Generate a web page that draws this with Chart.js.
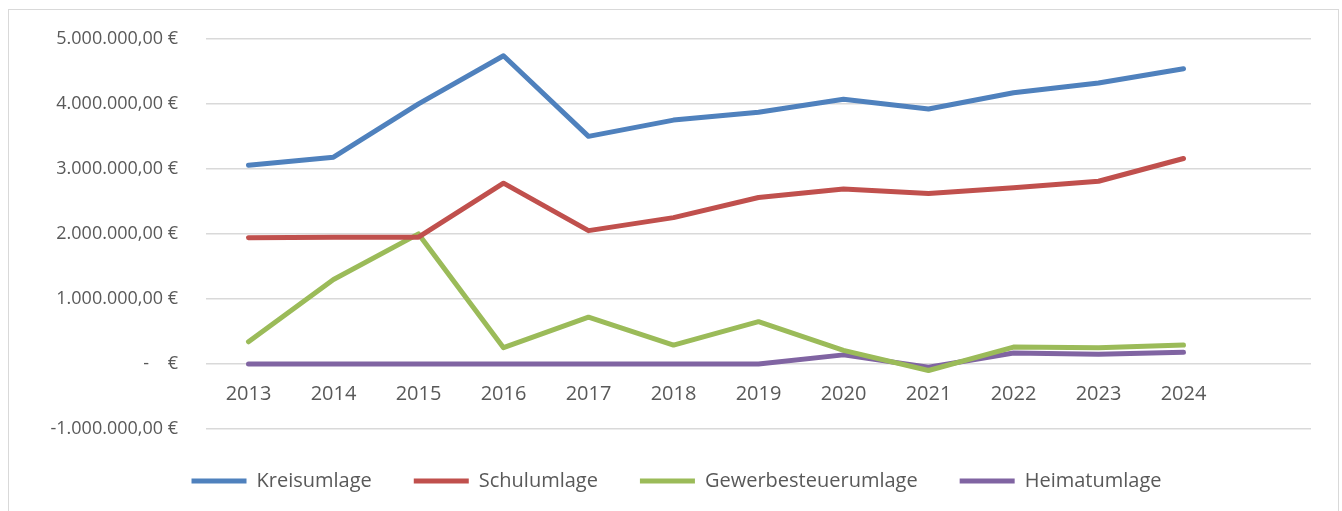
<!DOCTYPE html>
<html>
<head>
<meta charset="utf-8">
<script src="https://cdn.jsdelivr.net/npm/chart.js@4/dist/chart.umd.min.js"></script>
<style>
  html, body { margin: 0; padding: 0; background: #fff; }
  #wrap { position: relative; width: 1342px; height: 511px; overflow: hidden; }
  #frame { position: absolute; left: 8px; top: 9px; width: 1331px; height: 520px; border: 1.5px solid #D9D9D9; box-sizing: border-box; }
  canvas { position: absolute; left: 0; top: 0; }
</style>
</head>
<body>
<div id="wrap">
  <div id="frame"></div>
  <canvas id="c" width="1342" height="511"></canvas>
</div>
<script>
const categories = ["2013","2014","2015","2016","2017","2018","2019","2020","2021","2022","2023","2024",""];
const kreisumlage = [3056000, 3180000, 4000000, 4740000, 3500000, 3750000, 3870000, 4070000, 3920000, 4170000, 4320000, 4540000, null];
const schulumlage = [1940000, 1950000, 1950000, 2780000, 2050000, 2250000, 2560000, 2690000, 2620000, 2710000, 2810000, 3160000, null];
const gewerbesteuerumlage = [340000, 1300000, 2000000, 250000, 720000, 290000, 650000, 210000, -100000, 260000, 250000, 290000, null];
const heimatumlage = [0, 0, 0, 0, 0, 0, 0, 140000, -50000, 170000, 150000, 180000, null];
const seriesNames = ["Kreisumlage", "Schulumlage", "Gewerbesteuerumlage", "Heimatumlage"];
const seriesColors = ["#4F81BD", "#C0504D", "#9BBB59", "#8064A2"];
const yMin = -1000000, yMax = 5000000, yStep = 1000000;

const FONT = "'Open Sans', 'Liberation Sans', sans-serif";
const TEXT = "#595959";

function fmtEuro(v) {
  if (v === 0) return "-\u00A0\u00A0\u00A0\u00A0\u20AC";
  return v.toLocaleString("de-DE", {minimumFractionDigits: 2, maximumFractionDigits: 2}) + " \u20AC";
}

const seriesData = [kreisumlage, schulumlage, gewerbesteuerumlage, heimatumlage];
const datasets = seriesData.map((d, i) => ({
  label: seriesNames[i],
  data: d,
  borderColor: seriesColors[i],
  backgroundColor: seriesColors[i],
  borderWidth: 5,
  borderCapStyle: "round",
  borderJoinStyle: "round",
  pointRadius: 0,
  pointHoverRadius: 0,
  tension: 0,
  fill: false
}));

new Chart(document.getElementById("c"), {
  type: "line",
  data: { labels: categories, datasets: datasets },
  options: {
    responsive: false,
    animation: false,
    events: [],
    layout: { padding: { top: 27, right: 31, bottom: 10, left: 42 } },
    plugins: {
      tooltip: { enabled: false },
      legend: {
        position: "bottom",
        labels: {
          usePointStyle: true,
          pointStyle: "line",
          pointStyleWidth: 55,
          boxHeight: 5,
          padding: 42,
          color: TEXT,
          font: { family: FONT, size: 20 }
        }
      }
    },
    scales: {
      x: {
        type: "category",
        position: { y: 0 },
        offset: true,
        grid: { display: false, drawTicks: false },
        border: { display: false },
        ticks: {
          color: TEXT,
          font: { family: FONT, size: 20 },
          padding: 18,
          maxRotation: 0,
          autoSkip: false
        }
      },
      y: {
        min: yMin,
        max: yMax,
        afterFit: (s) => { s.width = 164; },
        grid: { color: "#D9D9D9", lineWidth: 1.5, drawTicks: false },
        border: { display: false },
        ticks: {
          stepSize: yStep,
          padding: 28,
          color: TEXT,
          font: { family: FONT, size: 18 },
          callback: (v) => fmtEuro(v)
        }
      }
    }
  }
});
</script>
</body>
</html>
